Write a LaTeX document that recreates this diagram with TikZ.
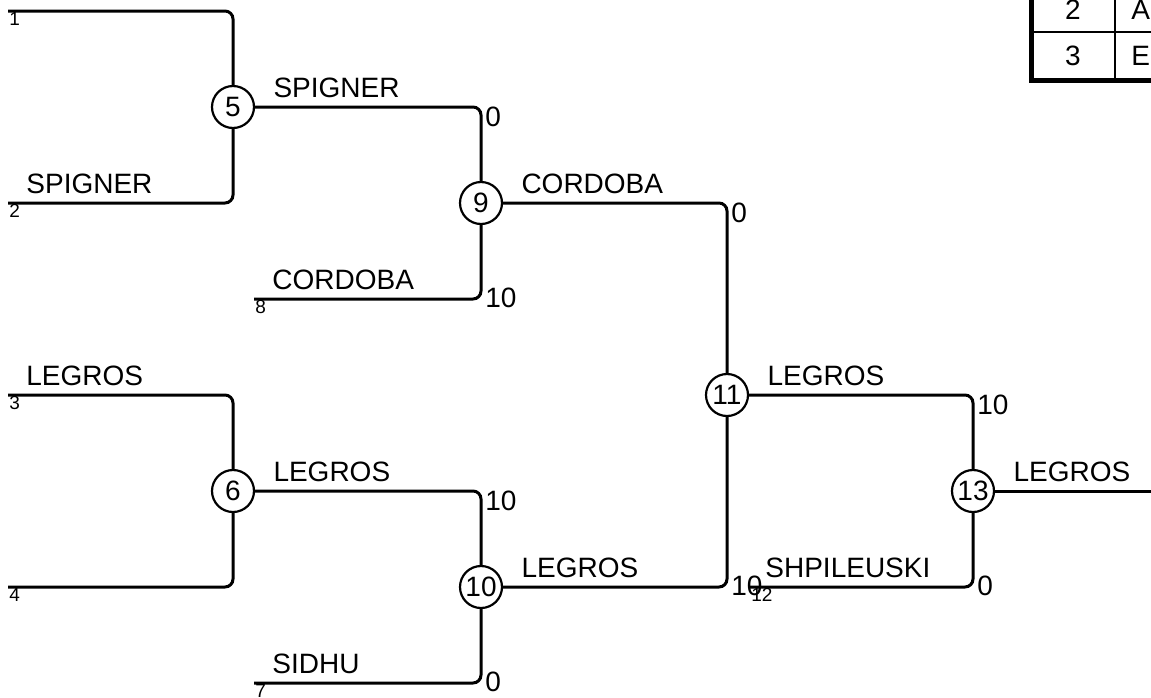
\documentclass[tikz,border=0pt]{standalone}
\usepackage{fontspec}
\setmainfont{Liberation Sans}
\usetikzlibrary{positioning}

\tikzset{
  game/.style={draw, circle, line width=1.1pt, minimum size=21pt, inner sep=0pt, fill=white, font=\fontsize{14}{14}\selectfont},
  bline/.style={line width=1.5pt, rounded corners=4pt},
  player/.style={anchor=base west, inner sep=0pt, font=\fontsize{14}{14}\selectfont},
  score/.style={anchor=west, inner sep=0pt, font=\fontsize{14}{14}\selectfont},
  seedno/.style={anchor=north west, inner sep=0.5pt, font=\fontsize{9.5}{9.5}\selectfont},
}

\begin{document}
\begin{tikzpicture}[x=0.5pt, y=-0.5pt]
    \useasboundingbox (0, 0) rectangle (1151, 697);
    \clip (0, 0) rectangle (1151, 697);

    % seeds
    \coordinate (s1) at (8, 11);
    \coordinate (s2) at (8, 203);
    \coordinate (s3) at (8, 395);
    \coordinate (s4) at (8, 587);
    \coordinate (s8) at (254, 299);
    \coordinate (s7) at (254, 683);
    \coordinate (s12) at (750, 587);
    \coordinate (out) at (1151, 491);

    % games
    \node[game] (g5) at (233, 107) {5};
    \node[game] (g6) at (233, 491) {6};
    \node[game] (g9) at (481, 203) {9};
    \node[game] (g10) at (481, 587) {10};
    \node[game] (g11) at (727, 395) {11};
    \node[game] (g13) at (973, 491) {13};

    % draw bracket lines
    \draw[bline] (s1) -| (g5);
    \draw[bline] (s2) -| (g5);
    \draw[bline] (s3) -| (g6);
    \draw[bline] (s4) -| (g6);
    \draw[bline] (g5) -| (g9);
    \draw[bline] (s8) -| (g9);
    \draw[bline] (g6) -| (g10);
    \draw[bline] (s7) -| (g10);
    \draw[bline] (g9) -| (g11);
    \draw[bline] (g10) -| (g11);
    \draw[bline] (g11) -| (g13);
    \draw[bline] (s12) -| (g13);
    \draw[bline] (g13) -- (out);

    % seed numbers
    \node[seedno] at (s1) {1};
    \node[seedno] at (s2) {2};
    \node[seedno] at (s3) {3};
    \node[seedno] at (s4) {4};
    \node[seedno] at (s8) {8};
    \node[seedno] at (s7) {7};
    \node[seedno] at (s12) {12};

    % player names
    \path (s2) ++(18, -10) node[player] {SPIGNER};
    \path (s3) ++(18, -10) node[player] {LEGROS};
    \path (s8) ++(18, -10) node[player] {CORDOBA};
    \path (s7) ++(18, -10) node[player] {SIDHU};
    \path (s12) ++(15, -10) node[player] {SHPILEUSKI};
    \path (g5.east) ++(18, -10) node[player] {SPIGNER};
    \path (g6.east) ++(18, -10) node[player] {LEGROS};
    \path (g9.east) ++(18, -10) node[player] {CORDOBA};
    \path (g10.east) ++(18, -10) node[player] {LEGROS};
    \path (g11.east) ++(18, -10) node[player] {LEGROS};
    \path (g13.east) ++(18, -10) node[player] {LEGROS};

    % scores
    \path (g9 |- g5) ++(4, 10) node[score] {0};
    \path (g9 |- s8) ++(4, -1) node[score] {10};
    \path (g10 |- g6) ++(4, 10) node[score] {10};
    \path (g10 |- s7) ++(4, -1) node[score] {0};
    \path (g11 |- g9) ++(4, 10) node[score] {0};
    \path (g11 |- g10) ++(4, -1) node[score] {10};
    \path (g13 |- g11) ++(4, 10) node[score] {10};
    \path (g13 |- s12) ++(4, -1) node[score] {0};

    % draw results table
    \draw[line width=1pt] (1031, 32) -- (1160, 32);
    \draw[line width=1pt] (1115, -20) -- (1115, 80);
    \draw[line width=2.5pt] (1031, -20) -- (1031, 80) -- (1160, 80);
    \node[score, anchor=center] at (1073, 10) {2};
    \node[score, anchor=center] at (1073, 56) {3};
    \node[score] at (1131, 10) {A};
    \node[score] at (1131, 56) {E};
\end{tikzpicture}
\end{document}
